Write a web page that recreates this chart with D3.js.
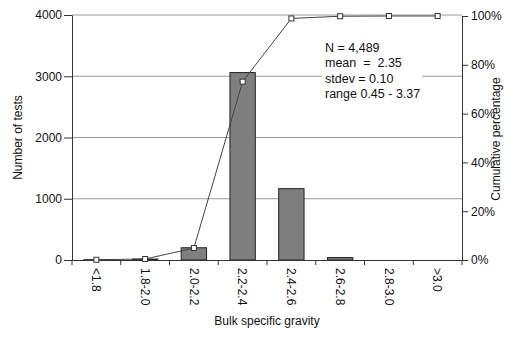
<!DOCTYPE html>
<html><head><meta charset="utf-8">
<script src="https://cdn.jsdelivr.net/npm/d3@7"></script>
<style>body{margin:0;background:#fff}svg text{font-family:"Liberation Sans",Arial,sans-serif;fill:#111}</style>
</head><body><svg id="c" width="515" height="338"></svg>
<script>
const categories = ["<1.8","1.8-2.0","2.0-2.2","2.2-2.4","2.4-2.6","2.6-2.8","2.8-3.0",">3.0"];
const counts = [5, 15, 200, 3060, 1165, 40, 0, 0];
const cumulativePct = [0.1, 0.4, 4.9, 73.1, 99.0, 99.9, 100, 100];
const leftTicks = [0, 1000, 2000, 3000, 4000];
const rightTicks = [0, 20, 40, 60, 80, 100];
const statsLines = ["N = 4,489", "mean  =  2.35", "stdev = 0.10", "range 0.45 - 3.37"];

const svg = d3.select("#c");
const L = 72, R = 462, T = 15, B = 260;
const x = d3.scaleBand().domain(categories).range([L, R]).paddingInner(0.48).paddingOuter(0.24);
const y = d3.scaleLinear().domain([0, 4000]).range([B, T]);
const y2 = d3.scaleLinear().domain([0, 100]).range([B, T + 1]);

// gridlines
svg.append("g").selectAll("line").data(leftTicks.filter(d => d > 0)).join("line")
  .attr("x1", L).attr("x2", R).attr("y1", d => y(d)).attr("y2", d => y(d))
  .attr("stroke", "#9a9a9a").attr("stroke-width", 1);

// white box behind stats
svg.append("rect").attr("x", 322).attr("y", 38).attr("width", 100).attr("height", 62).attr("fill", "#fff");

// bars
svg.append("g").selectAll("rect").data(categories.filter((d, i) => counts[i] > 0)).join("rect")
  .attr("x", d => x(d)).attr("width", x.bandwidth())
  .attr("y", d => y(counts[categories.indexOf(d)])).attr("height", d => B - y(counts[categories.indexOf(d)]))
  .attr("fill", "#7f7f7f").attr("stroke", "#222").attr("stroke-width", 1);

// axes
const gl = svg.append("g").attr("transform", `translate(${L},0)`)
  .call(d3.axisLeft(y).tickValues(leftTicks).tickFormat(d3.format("d")).tickSize(8).tickSizeOuter(0));
gl.selectAll("text").attr("font-size", 12).attr("x", -10);
const gr = svg.append("g").attr("transform", `translate(${R},0)`)
  .call(d3.axisRight(y2).tickValues(rightTicks).tickFormat(d => d + "%").tickSize(6).tickSizeOuter(0));
gr.selectAll("text").attr("font-size", 12).attr("x", 9);
const gb = svg.append("g").attr("transform", `translate(0,${B})`)
  .call(d3.axisBottom(x).tickSize(0).tickSizeOuter(0));
gb.selectAll("text").attr("font-size", 12)
  .attr("transform", "rotate(90)").attr("x", 8).attr("y", 0).attr("dy", "0.35em").attr("text-anchor", "start");
// boundary ticks on x axis
const bounds = d3.range(categories.length + 1).map(i => L + i * (R - L) / categories.length);
svg.append("g").selectAll("line").data(bounds).join("line")
  .attr("x1", d => d).attr("x2", d => d).attr("y1", B).attr("y2", B + 5).attr("stroke", "#333");
[gl, gr, gb].forEach(g => { g.selectAll(".domain").attr("stroke", "#333"); g.selectAll(".tick line").attr("stroke", "#333"); });

// cumulative line
const line = d3.line().x((d, i) => x(categories[i]) + x.bandwidth() / 2).y(d => y2(d));
svg.append("path").datum(cumulativePct).attr("d", line).attr("fill", "none").attr("stroke", "#444").attr("stroke-width", 1);
svg.append("g").selectAll("rect").data(cumulativePct).join("rect")
  .attr("x", (d, i) => x(categories[i]) + x.bandwidth() / 2 - 2.5).attr("y", d => y2(d) - 2.5)
  .attr("width", 5).attr("height", 5).attr("fill", "#fff").attr("stroke", "#333").attr("stroke-width", 1);

// stats text
svg.append("g").selectAll("text").data(statsLines).join("text")
  .attr("x", 325).attr("y", (d, i) => 52 + i * 15.3).attr("font-size", 12.5)
  .style("white-space", "pre").text(d => d);

// axis titles
svg.append("text").attr("transform", `translate(22,${(T + B) / 2}) rotate(-90)`).attr("text-anchor", "middle").attr("font-size", 12).text("Number of tests");
svg.append("text").attr("transform", `translate(500,139) rotate(-90)`).attr("text-anchor", "middle").attr("font-size", 12).text("Cumulative percentage");
svg.append("text").attr("x", (L + R) / 2).attr("y", 325).attr("text-anchor", "middle").attr("font-size", 12).text("Bulk specific gravity");
</script></body></html>
